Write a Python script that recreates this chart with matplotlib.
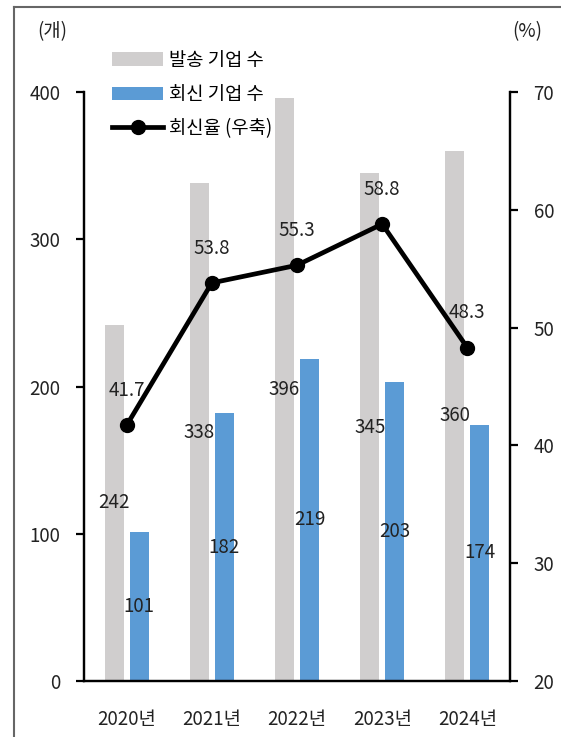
import matplotlib
matplotlib.use('Agg')
import matplotlib.pyplot as plt
from matplotlib.lines import Line2D
import numpy as np

plt.rcParams['font.family'] = ['Noto Sans CJK KR', 'DejaVu Sans']

years = ['2020년', '2021년', '2022년', '2023년', '2024년']
sent = [242, 338, 396, 345, 360]
replied = [101, 182, 219, 203, 174]
rate = [41.7, 53.8, 55.3, 58.8, 48.3]

grey = '#D0CECE'
blue = '#5B9BD5'
txt = '#222222'
fs = 13.5

fig = plt.figure(figsize=(5.61, 7.37), dpi=100)
ax = fig.add_axes([0.1497, 0.076, 0.7593, 0.799])
ax2 = ax.twinx()

x = np.arange(len(years))
w = 0.223
off = 0.146
b1 = ax.bar(x - off, sent, w, color=grey, label='발송 기업 수')
b2 = ax.bar(x + off, replied, w, color=blue, label='회신 기업 수')
ln, = ax2.plot(x, rate, color='black', lw=3.4, marker='o', ms=10, label='회신율 (우축)')

for i in range(len(x)):
    ax.text(x[i] - off, sent[i] / 2, str(sent[i]), ha='center', va='center', fontsize=fs, color=txt)
    ax.text(x[i] + off, replied[i] / 2, str(replied[i]), ha='center', va='center', fontsize=fs, color=txt)
    ax2.annotate(f'{rate[i]:.1f}', (x[i], rate[i]), xytext=(0, 25), textcoords='offset points',
                 ha='center', va='center', fontsize=fs, color=txt)

ax.set_xlim(-0.5, len(x) - 0.5)
ax.set_ylim(0, 400)
ax.set_yticks(range(0, 401, 100))
ax2.set_ylim(20, 70)
ax2.set_yticks(range(20, 71, 10))
ax.set_xticks(x)
ax.set_xticklabels(years)

for a in (ax, ax2):
    a.spines['top'].set_visible(False)
    for s in a.spines.values():
        s.set_linewidth(1.6)
ax.tick_params(axis='x', length=0, pad=20, labelsize=fs, labelcolor=txt)
ax.tick_params(axis='y', direction='out', length=6, width=1.6, pad=11, labelsize=fs, labelcolor=txt)
ax2.tick_params(axis='y', direction='out', length=6, width=1.6, pad=11, labelsize=fs, labelcolor=txt)

fig.text(37 / 561, 1 - 32 / 737, '(개)', ha='left', va='center', fontsize=fs, color=txt)
fig.text(512 / 561, 1 - 32 / 737, '(%)', ha='left', va='center', fontsize=fs, color=txt)

ax.legend([b1, b2, ln], ['발송 기업 수', '회신 기업 수', '회신율 (우축)'],
          loc='upper left', bbox_to_anchor=(0.048, 1.085), frameon=False,
          fontsize=fs, handlelength=2.75, handletextpad=0.3, labelspacing=0.7,
          borderaxespad=0)

fig.add_artist(Line2D([14 / 561, 14 / 561], [0, 1 - 7 / 737], color='#666666', lw=1.5))
fig.add_artist(Line2D([14 / 561, 1], [1 - 7 / 737, 1 - 7 / 737], color='#666666', lw=1.5))

fig.savefig('out.png', dpi=100)
